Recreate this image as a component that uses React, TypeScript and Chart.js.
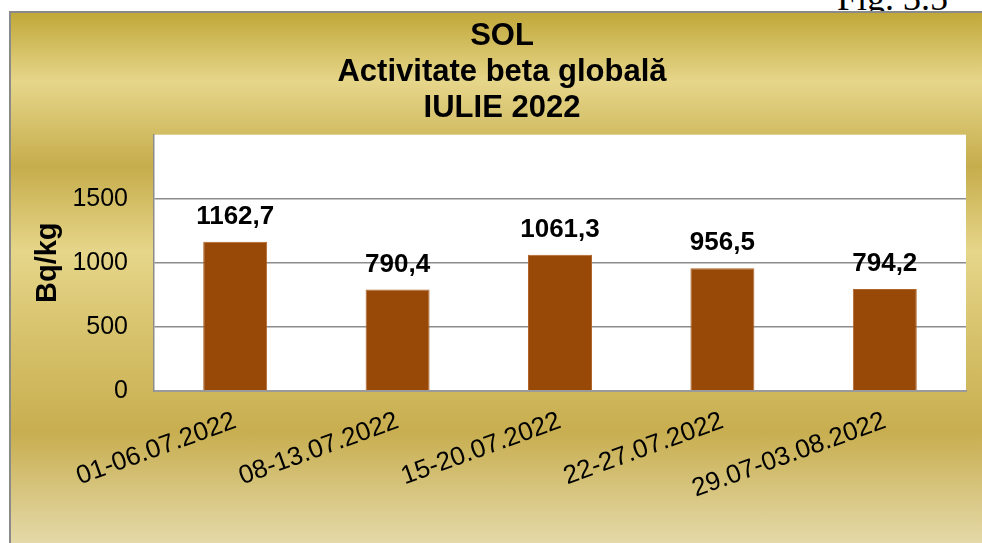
import React, { useEffect, useRef } from "react";
import { Chart, registerables } from "chart.js";

Chart.register(...registerables);

const categories = [
  "01-06.07.2022",
  "08-13.07.2022",
  "15-20.07.2022",
  "22-27.07.2022",
  "29.07-03.08.2022",
];
const values = [1162.7, 790.4, 1061.3, 956.5, 794.2];
const valueLabels = ["1162,7", "790,4", "1061,3", "956,5", "794,2"];
const yTicks = [0, 500, 1000, 1500];
const titleLines = ["SOL", "Activitate beta globală", "IULIE 2022"];
const yAxisTitle = "Bq/kg";
const figLabel = "Fig. 3.5";

const FONT = "'Liberation Sans', Arial, Helvetica, sans-serif";

const plotBackground = {
  id: "plotBackground",
  beforeDraw(chart: any) {
    const { ctx, chartArea } = chart;
    ctx.save();
    ctx.fillStyle = "#ffffff";
    ctx.fillRect(
      chartArea.left,
      chartArea.top,
      chartArea.right - chartArea.left,
      chartArea.bottom - chartArea.top
    );
    ctx.restore();
  },
};

const barValueLabels = {
  id: "barValueLabels",
  afterDatasetsDraw(chart: any) {
    const { ctx } = chart;
    const meta = chart.getDatasetMeta(0);
    ctx.save();
    ctx.font = `bold 26px ${FONT}`;
    ctx.fillStyle = "#000000";
    ctx.textAlign = "center";
    ctx.textBaseline = "alphabetic";
    meta.data.forEach((bar: any, i: number) => {
      ctx.fillText(valueLabels[i], bar.x, bar.y - 18);
    });
    ctx.restore();
  },
};

export default function App() {
  const canvasRef = useRef<HTMLCanvasElement | null>(null);

  useEffect(() => {
    document.body.style.overflow = "hidden";
    const canvas = canvasRef.current;
    if (!canvas) return;
    const chart = new Chart(canvas, {
      type: "bar",
      data: {
        labels: categories,
        datasets: [
          {
            data: values,
            backgroundColor: "#984807",
            borderColor: "#b06428",
            borderWidth: 1,
            categoryPercentage: 1,
            barPercentage: 0.394,
          },
        ],
      },
      options: {
        responsive: false,
        animation: false,
        events: [],
        layout: {
          autoPadding: false,
          padding: { left: 27, right: 16, top: 0, bottom: 0 },
        },
        plugins: {
          legend: { display: false },
          tooltip: { enabled: false },
          title: {
            display: true,
            text: titleLines,
            color: "#000000",
            font: { family: FONT, size: 31, weight: "bold", lineHeight: 36 / 31 },
            padding: { top: 5, bottom: 8.7 },
          },
        },
        scales: {
          x: {
            grid: { display: false, drawTicks: false },
            border: { display: true, color: "#9a9a9a", width: 2 },
            ticks: {
              color: "#000000",
              font: { family: FONT, size: 26 },
              minRotation: 20,
              maxRotation: 20,
              autoSkip: false,
              padding: 15,
            },
            afterFit(scale: any) {
              scale.height = 152.3;
            },
          },
          y: {
            min: 0,
            max: 2000,
            afterBuildTicks(scale: any) {
              scale.ticks = yTicks.map((v) => ({ value: v }));
            },
            grid: { color: "#8c8c8c", lineWidth: 1.5, drawTicks: false },
            border: { display: true, color: "#8c8c8c", width: 1.5 },
            ticks: {
              color: "#000000",
              font: { family: FONT, size: 25 },
              padding: 26,
              callback: (v: any) => String(v),
            },
            title: {
              display: true,
              text: yAxisTitle,
              color: "#000000",
              font: { family: FONT, size: 29, weight: "bold", lineHeight: 0.7 },
              padding: { top: 0, bottom: 0 },
            },
            afterFit(scale: any) {
              scale.width = 116;
            },
          },
        },
      },
      plugins: [plotBackground, barValueLabels],
    } as any);
    return () => chart.destroy();
  }, []);

  return (
    <div>
      <div
        style={{
          position: "absolute",
          left: 837,
          top: -20,
          fontFamily: "'Liberation Serif', 'Times New Roman', serif",
          fontSize: 36,
          lineHeight: "36px",
          color: "#000",
          whiteSpace: "nowrap",
          zIndex: 0,
        }}
      >
        {figLabel}
      </div>
      <div
        style={{
          position: "absolute",
          left: 9,
          top: 11,
          width: 973,
          height: 532,
          boxSizing: "border-box",
          borderLeft: "2px solid #8a8a8a",
          borderTop: "2px solid #8a8a8a",
          zIndex: 1,
          background:
            "linear-gradient(to bottom, #c1a83a 0%, #e6d68a 13%, #c6ad4c 29%, #e6d68a 45%, #d6c16a 62%, #c8ae50 79%, #e4d9a8 100%)",
        }}
      >
        <canvas
          ref={canvasRef}
          width={971}
          height={530}
          style={{ display: "block", width: 971, height: 530 }}
        />
      </div>
    </div>
  );
}
